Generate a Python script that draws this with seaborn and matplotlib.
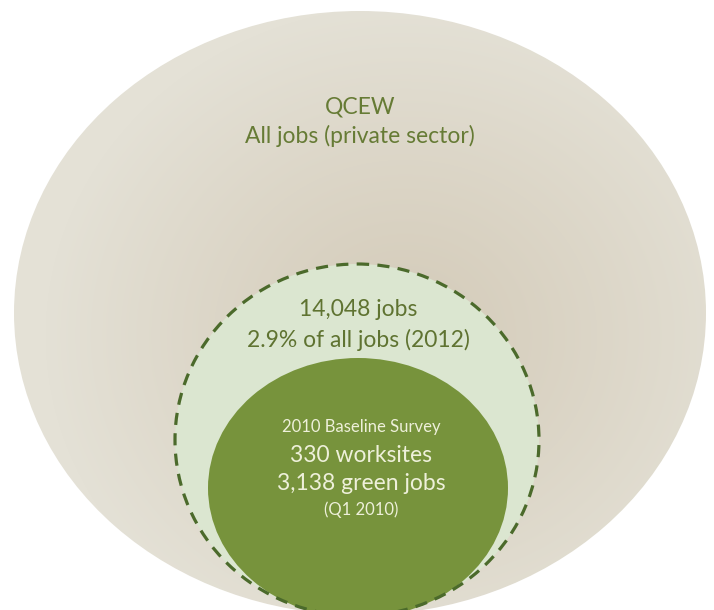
import numpy as np
import matplotlib
matplotlib.use("Agg")
import matplotlib.pyplot as plt
from matplotlib.patches import Ellipse
import seaborn as sns

# --- content -------------------------------------------------------------
tiers = ["QCEW", "Green jobs estimate", "2010 Baseline Survey"]
outer_lines = ["QCEW", "All jobs (private sector)"]
middle_lines = ["14,048 jobs", "2.9% of all jobs (2012)"]
inner_lines = ["2010 Baseline Survey", "330 worksites", "3,138 green jobs", "(Q1 2010)"]

# --- layout (pixel space, y grows downward) ------------------------------
W, H = 714, 610
outer_geom = dict(xy=(360, 313), width=692, height=604)
middle_geom = dict(xy=(357, 440), width=364, height=352)
inner_geom = dict(xy=(358, 488), width=300, height=260)

sns.set_theme(style="white")
plt.rcParams["font.family"] = ["Lato", "DejaVu Sans"]

fig = plt.figure(figsize=(W / 100, H / 100), dpi=100)
ax = fig.add_axes([0, 0, 1, 1])
ax.set_xlim(0, W)
ax.set_ylim(H, 0)
ax.set_aspect("equal")
ax.axis("off")

# outer ellipse with a soft radial shading
outer = Ellipse(**outer_geom, facecolor="none", edgecolor="none")
ax.add_patch(outer)
yy, xx = np.mgrid[0:H, 0:W]
cx, cy = 405, 335
d = np.sqrt(((xx - cx) / 360.0) ** 2 + ((yy - cy) / 330.0) ** 2)
t = np.clip(d, 0, 1)[..., None] ** 1.1
c_in = np.array([0xd4, 0xcb, 0xb9]) / 255
c_out = np.array([0xe4, 0xe1, 0xd6]) / 255
img = c_in * (1 - t) + c_out * t
im = ax.imshow(img, extent=[0, W, H, 0], interpolation="bilinear", zorder=1)
im.set_clip_path(outer)

# middle dashed circle
ax.add_patch(Ellipse(**middle_geom, facecolor="#dbe6d0", edgecolor="none", zorder=2))
# inner solid circle
ax.add_patch(Ellipse(**inner_geom, facecolor="#77933c", edgecolor="none", zorder=3))
ax.add_patch(Ellipse(**middle_geom, facecolor="none", edgecolor="#4b6a2b",
                     linewidth=2.3, linestyle=(0, (3.8, 2.6)), zorder=4))

# labels
text_green = "#667b35"
mid_green = "#5f7331"
light = "#eef0da"
big, small = 16.5, 12
ax.text(360, 107, outer_lines[0], ha="center", va="center", fontsize=big, color=text_green, zorder=5)
ax.text(360, 136, outer_lines[1], ha="center", va="center", fontsize=big, color=text_green, zorder=5)
ax.text(358, 310, middle_lines[0], ha="center", va="center", fontsize=big, color=mid_green, zorder=5)
ax.text(358, 340, middle_lines[1], ha="center", va="center", fontsize=big, color=mid_green, zorder=5)
ax.text(361, 427, inner_lines[0], ha="center", va="center", fontsize=small, color=light, zorder=5)
ax.text(361, 455, inner_lines[1], ha="center", va="center", fontsize=big, color=light, zorder=5)
ax.text(361, 483, inner_lines[2], ha="center", va="center", fontsize=big, color=light, zorder=5)
ax.text(361, 510, inner_lines[3], ha="center", va="center", fontsize=small, color=light, zorder=5)

fig.savefig("out.png", dpi=100, facecolor="white")
